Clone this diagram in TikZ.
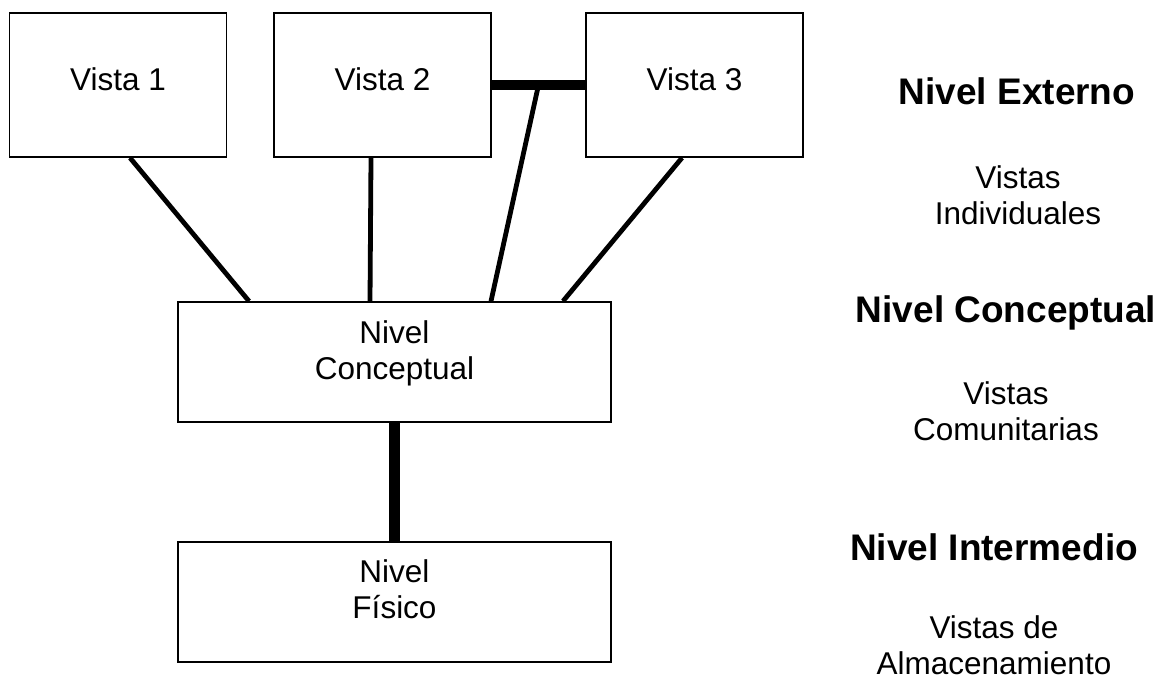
\documentclass[tikz,border=0pt]{standalone}
\usepackage{fontspec}
\setmainfont{Liberation Sans}
\usetikzlibrary{calc,positioning}

\begin{document}
\begin{tikzpicture}[x=1pt, y=-1pt,
  caja/.style={draw, line width=1.6pt, minimum width=217pt, minimum height=144pt, inner sep=0pt},
  cajanivel/.style={caja, minimum width=433pt, minimum height=120pt},
  enlace/.style={line width=4.8pt},
  enlacegrueso/.style={line width=10.5pt},
  txt/.style={font=\fontsize{31.5}{36}\selectfont, align=center, anchor=base},
  titulo/.style={font=\fontsize{37}{42}\selectfont\bfseries, anchor=base}]
  \useasboundingbox (0,0) rectangle (1163,682);
  % vistas externas
  \node[caja] (v1) at (118,85) {};
  \node[caja] (v2) at (382.5,85) {};
  \node[caja] (v3) at (694.5,85) {};
  \node[txt] (tv1) at (118,91) {Vista 1};
  \node[txt] (tv2) at (382.5,91) {Vista 2};
  \node[txt] (tv3) at (694.5,91) {Vista 3};
  % niveles (base = ultima linea)
  \node[cajanivel] (conc) at (394.5,362) {};
  \node[cajanivel] (fis) at (394.5,602) {};
  \node[txt] (tconc) at (394.5,379) {Nivel\\Conceptual};
  \node[txt] (tfis) at (394.5,618) {Nivel\\Físico};
  % conexiones
  \coordinate (union) at ($(v2.east)!0.5!(v3.west)$);
  \draw[enlacegrueso] (v2.east) -- (v3.west);
  \draw[enlace] ([xshift=12pt]v1.south) -- ([xshift=-145.5pt]conc.north);
  \draw[enlace] ([xshift=-11.5pt]v2.south) -- ([xshift=-24.5pt]conc.north);
  \draw[enlace] (union) -- ([xshift=96.5pt]conc.north);
  \draw[enlace] ([xshift=-12.5pt]v3.south) -- ([xshift=168.5pt]conc.north);
  \draw[enlacegrueso] (conc) -- (fis);
  % columna derecha
  \node[titulo] (ext) at (1017,105) {Nivel Externo};
  \node[txt] (ind) at (1018,225) {Vistas\\Individuales};
  \node[titulo] (con) at (1006,322) {Nivel Conceptual};
  \node[txt] (com) at (1006,440) {Vistas\\Comunitarias};
  \node[titulo] (int) at (994,560) {Nivel Intermedio};
  \node[txt] (alm) at (994,674) {Vistas de\\Almacenamiento};
\end{tikzpicture}
\end{document}
